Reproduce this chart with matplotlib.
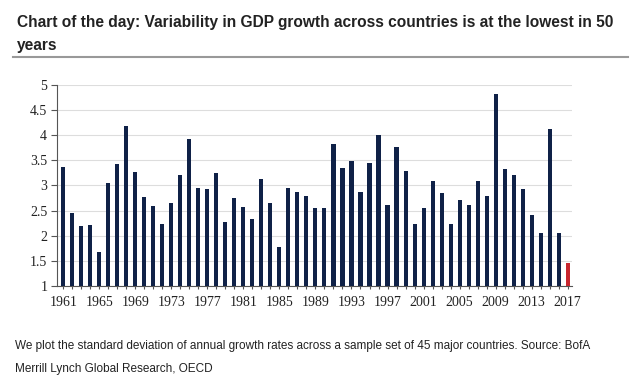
import numpy as np
import matplotlib
matplotlib.use("Agg")
import matplotlib.pyplot as plt

# standard deviation of annual GDP growth across 45 countries
years = list(range(1961, 2018))
values = [3.37, 2.45, 2.19, 2.22, 1.67, 3.04, 3.43, 4.18, 3.27, 2.77,
          2.59, 2.24, 2.66, 3.21, 3.92, 2.95, 2.93, 3.25, 2.27, 2.75,
          2.58, 2.33, 3.12, 2.65, 1.78, 2.95, 2.86, 2.79, 2.55, 2.55,
          3.82, 3.34, 3.48, 2.86, 3.44, 4.00, 2.61, 3.76, 3.29, 2.23,
          2.55, 3.09, 2.85, 2.23, 2.71, 2.62, 3.08, 2.79, 4.83, 3.32,
          3.21, 2.93, 2.41, 2.06, 4.13, 2.06, 1.46]
label_years = list(range(1961, 2018, 4))

navy = "#0f2147"
red = "#c8262e"
colors = [navy] * (len(years) - 1) + [red]

fig = plt.figure(figsize=(6.4, 3.88), dpi=100)
ax = fig.add_axes([0.089, 0.263, 0.805, 0.518])

ax.bar(years, [v - 1 for v in values], bottom=1, width=0.45, color=colors, zorder=3)

ax.set_ylim(1, 5)
ax.set_xlim(1960.3, 2017.5)
ax.set_yticks(np.arange(1, 5.01, 0.5))
ax.set_yticklabels(["1", "1.5", "2", "2.5", "3", "3.5", "4", "4.5", "5"])
ax.set_xticks(years, minor=True)
ax.set_xticks(label_years)
ax.set_xticklabels([str(y) for y in label_years])
for lab in ax.get_xticklabels() + ax.get_yticklabels():
    lab.set_fontfamily("Liberation Serif")
    lab.set_fontsize(10)
    lab.set_color("#222222")
ax.tick_params(axis="x", which="both", direction="inout", length=5, width=0.8, color="#555555", pad=5)
ax.tick_params(axis="y", direction="out", length=4, width=0.8, color="#555555", pad=3)

ax.grid(axis="y", color="#dddddd", linewidth=0.8, zorder=0)
for s in ["top", "right"]:
    ax.spines[s].set_visible(False)
ax.spines["left"].set_color("#555555")
ax.spines["bottom"].set_color("#555555")

fig.text(0.026, 0.943, "Chart of the day: Variability in GDP growth across countries is at the lowest in 50",
         fontsize=11.2, fontweight="bold", fontfamily="Liberation Sans", color="#222222", va="center")
fig.text(0.026, 0.884, "years", fontsize=11.2, fontweight="bold", fontfamily="Liberation Sans",
         color="#222222", va="center")
fig.add_artist(plt.Line2D([0.02, 0.981], [0.853, 0.853], color="#999999", linewidth=1.5))

fig.text(0.023, 0.108, "We plot the standard deviation of annual growth rates across a sample set of 45 major countries. Source: BofA",
         fontsize=8.5, fontfamily="Liberation Sans", color="#222222", va="center")
fig.text(0.023, 0.049, "Merrill Lynch Global Research, OECD",
         fontsize=8.5, fontfamily="Liberation Sans", color="#222222", va="center")

fig.savefig("out.png", dpi=100)
